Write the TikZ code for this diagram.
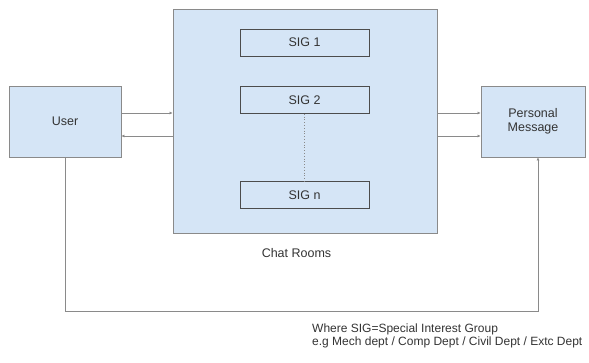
\documentclass[tikz,border=0pt]{standalone}
\usepackage{fontspec}
\setmainfont{Liberation Sans}
\usetikzlibrary{arrows.meta,positioning}
\definecolor{boxblue}{HTML}{D5E5F6}
\definecolor{edgegray}{HTML}{8A8A8A}
\tikzset{
  basic/.style  = {draw=edgegray, fill=boxblue, thick, rectangle, align=center, font=\fontsize{12.5}{14}\selectfont, text=black!80},
  outer/.style  = {basic, minimum width=112pt, minimum height=71pt},
  room/.style   = {basic, minimum width=264pt, minimum height=224pt},
  sigbox/.style = {basic, draw=black!70, semithick, minimum width=129pt, minimum height=27pt},
  link/.style   = {->, draw=edgegray, thick}
}
\begin{document}
\begin{tikzpicture}[x=1pt, y=1pt, >={Latex[length=3pt,width=3pt]}]
\useasboundingbox (0,0) rectangle (589,-363);

% the three main blocks
\node[outer] (user) at (65,-121.5) {User};
\node[room] (chat) at (305,-121) {};
\node[outer, minimum width=104pt] (pm) at (533,-121.5) {Personal\\Message};

% special interest groups inside the chat rooms
\node[sigbox] (sig1) at (304.5,-42.5) {SIG 1};
\node[sigbox] (sig2) at (304.5,-100) {SIG 2};
\node[sigbox] (sign) at (304.5,-195) {SIG n};
\draw[dotted, thick, edgegray] (sig2) -- (sign);

% labels
\node[font=\fontsize{12.5}{14}\selectfont, text=black!80] (chatlbl) at (296.5,-253) {Chat Rooms};
\node[font=\fontsize{12}{12.5}\selectfont, text=black!80, align=left, anchor=north west, inner sep=0pt] (note) at (312,-324)
  {Where SIG=Special Interest Group\\e.g Mech dept / Comp Dept / Civil Dept / Extc Dept};

% lines between the blocks
\draw[link] ([yshift=8.5pt]user.east) -- ([yshift=8.5pt]user.east -| chat.west);
\draw[link] ([yshift=-14.5pt]user.east -| chat.west) -- ([yshift=-14.5pt]user.east);
\draw[link] ([yshift=8.5pt]pm.west -| chat.east) -- ([yshift=8.5pt]pm.west);
\draw[link] ([yshift=-14.5pt]pm.west -| chat.east) -- ([yshift=-14.5pt]pm.west);

\coordinate (turn) at (538,-311);
\draw[link] (user.south) |- (turn) -- ([xshift=5pt]pm.south);
\end{tikzpicture}
\end{document}
